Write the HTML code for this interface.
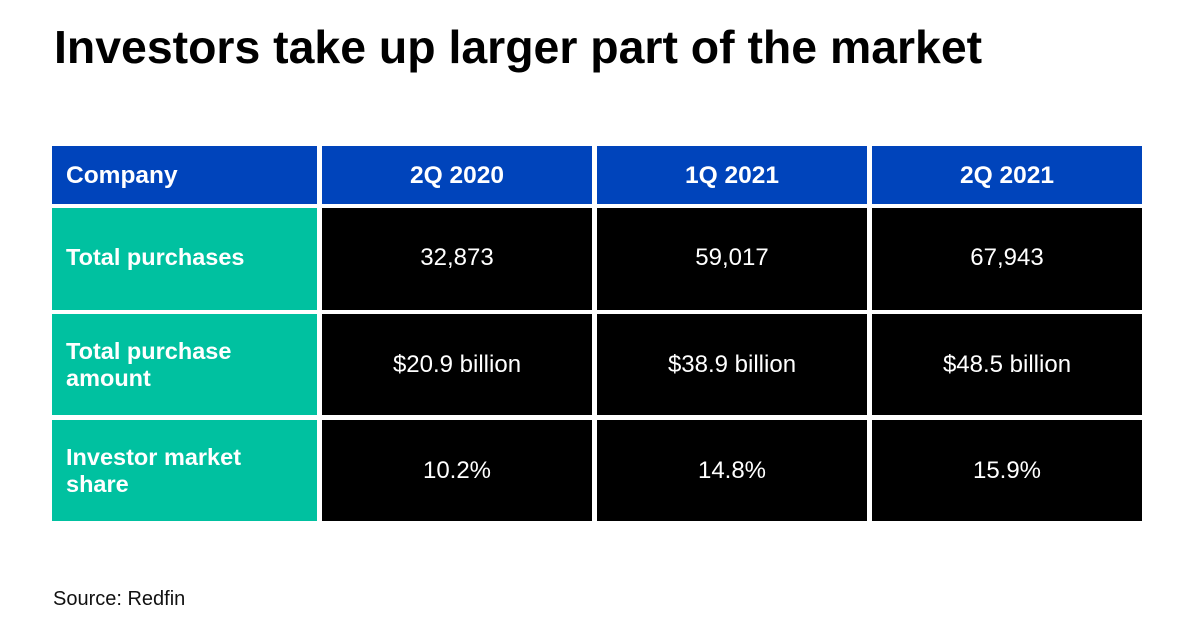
<!DOCTYPE html>
<html>
<head>
<meta charset="utf-8">
<style>
  html, body { margin:0; padding:0; }
  body { width:1200px; height:630px; background:#fff; position:relative; overflow:hidden;
         font-family:"Liberation Sans", Arial, sans-serif; }
  .title { position:absolute; left:54px; top:24px; font-size:46.4px; line-height:46.4px;
           font-weight:bold; color:#000; white-space:nowrap; }
  .c { position:absolute; display:flex; align-items:center; color:#fff; box-sizing:border-box; }
  .hd { background:#0044BB; font-weight:bold; font-size:24.5px; line-height:27px; justify-content:center; }
  .lab { background:#00C1A0; font-weight:bold; font-size:23.5px; line-height:27px; padding-left:14px; }
  .val { background:#000; font-size:24px; line-height:27px; justify-content:center; }
  .src { position:absolute; left:53px; top:589px; font-size:20px; line-height:20px; color:#111; }
</style>
</head>
<body>
<div class="title">Investors take up larger part of the market</div>

<!-- header row -->
<div class="c hd" style="left:52px;top:146px;width:265px;height:58px;justify-content:flex-start;padding-left:14px;">Company</div>
<div class="c hd" style="left:322px;top:146px;width:270px;height:58px;">2Q 2020</div>
<div class="c hd" style="left:597px;top:146px;width:270px;height:58px;">1Q 2021</div>
<div class="c hd" style="left:872px;top:146px;width:270px;height:58px;">2Q 2021</div>

<!-- row 1 -->
<div class="c lab" style="left:52px;top:208px;width:265px;height:102px;padding-bottom:4px;">Total purchases</div>
<div class="c val" style="left:322px;top:208px;width:270px;height:102px;padding-bottom:4px;">32,873</div>
<div class="c val" style="left:597px;top:208px;width:270px;height:102px;padding-bottom:4px;">59,017</div>
<div class="c val" style="left:872px;top:208px;width:270px;height:102px;padding-bottom:4px;">67,943</div>

<!-- row 2 -->
<div class="c lab" style="left:52px;top:314px;width:265px;height:101px;">Total purchase<br>amount</div>
<div class="c val" style="left:322px;top:314px;width:270px;height:101px;">$20.9 billion</div>
<div class="c val" style="left:597px;top:314px;width:270px;height:101px;">$38.9 billion</div>
<div class="c val" style="left:872px;top:314px;width:270px;height:101px;">$48.5 billion</div>

<!-- row 3 -->
<div class="c lab" style="left:52px;top:420px;width:265px;height:101px;">Investor market<br>share</div>
<div class="c val" style="left:322px;top:420px;width:270px;height:101px;">10.2%</div>
<div class="c val" style="left:597px;top:420px;width:270px;height:101px;">14.8%</div>
<div class="c val" style="left:872px;top:420px;width:270px;height:101px;">15.9%</div>

<div class="src">Source: Redfin</div>
</body>
</html>
